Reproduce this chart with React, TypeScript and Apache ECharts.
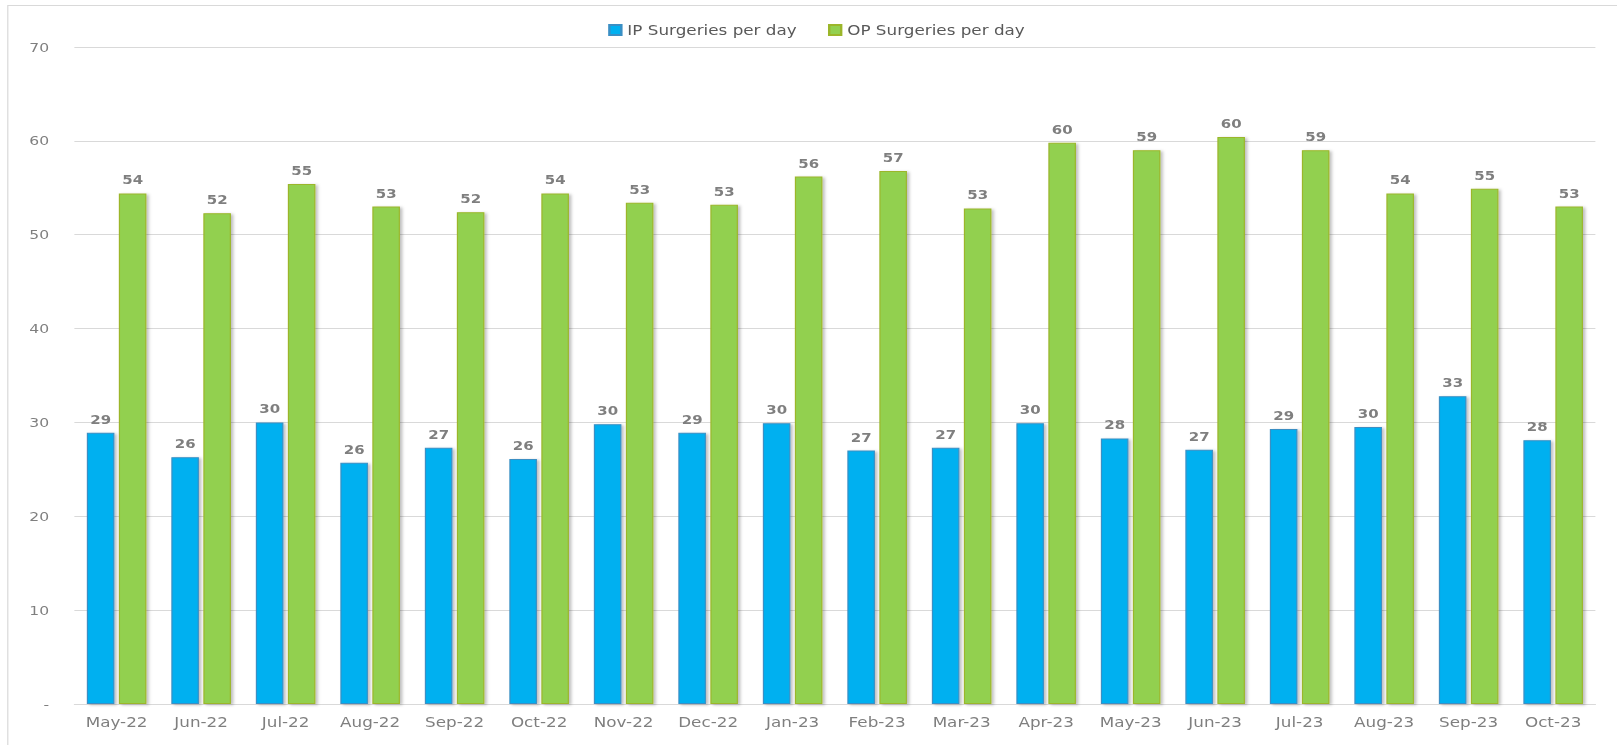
import React, { useEffect, useRef } from "react";
import * as echarts from "echarts";

const categories = [
  "May-22", "Jun-22", "Jul-22", "Aug-22", "Sep-22", "Oct-22", "Nov-22", "Dec-22", "Jan-23",
  "Feb-23", "Mar-23", "Apr-23", "May-23", "Jun-23", "Jul-23", "Aug-23", "Sep-23", "Oct-23",
];
const ipSurgeries = [28.9, 26.3, 30.0, 25.7, 27.3, 26.1, 29.8, 28.9, 29.9, 27.0, 27.3, 29.9, 28.3, 27.1, 29.3, 29.5, 32.8, 28.1];
const opSurgeries = [54.4, 52.3, 55.4, 53.0, 52.4, 54.4, 53.4, 53.2, 56.2, 56.8, 52.8, 59.8, 59.0, 60.4, 59.0, 54.4, 54.9, 53.0];
const seriesNames = ["IP Surgeries per day", "OP Surgeries per day"];

const FONT = "'DejaVu Sans', Verdana, sans-serif";
const INNER_W = 1348;
const STRETCH = 1617 / INNER_W;

export default function App() {
  const ref = useRef<HTMLDivElement>(null);
  useEffect(() => {
    if (!ref.current) return;
    const chart = echarts.init(ref.current, null, { renderer: "svg", width: INNER_W, height: 745 });
    const labelCfg = {
      show: true,
      position: "top",
      distance: 7,
      color: "#7f7f7f",
      fontWeight: "bold",
      fontSize: 12.5,
      fontFamily: FONT,
      formatter: (p: any) => String(Math.round(p.value)),
    };
    chart.setOption({
      animation: false,
      backgroundColor: "#ffffff",
      textStyle: { fontFamily: FONT },
      graphic: [
        {
          type: "rect",
          shape: { x: 6.5, y: 5.5, width: 1500, height: 800 },
          style: { fill: "none", stroke: "#d9d9d9", lineWidth: 1 },
          silent: true,
        },
      ],
      legend: {
        left: 502,
        top: 18,
        itemWidth: 10,
        itemHeight: 10,
        itemGap: 26,
        icon: "rect",
        textStyle: { color: "#595959", fontSize: 14, fontFamily: FONT },
        data: seriesNames,
      },
      grid: { left: 62, right: 18, top: 47, bottom: 41, containLabel: false },
      xAxis: {
        type: "category",
        data: categories,
        axisLine: { lineStyle: { color: "#d9d9d9" } },
        axisTick: { show: false },
        axisLabel: { color: "#7f7f7f", fontSize: 14, fontFamily: FONT, margin: 11 },
      },
      yAxis: {
        type: "value",
        min: 0,
        max: 70,
        interval: 10,
        axisLine: { show: false },
        axisTick: { show: false },
        splitLine: { lineStyle: { color: "#d9d9d9" } },
        axisLabel: {
          color: "#7f7f7f",
          fontSize: 13,
          fontFamily: FONT,
          margin: 21,
          formatter: (v: number) => (v === 0 ? "-" : String(v)),
        },
      },
      series: [
        {
          name: seriesNames[0],
          type: "bar",
          data: ipSurgeries,
          barWidth: 23,
          barGap: "16%",
          itemStyle: {
            color: "#00b0f0",
            borderColor: "#3a8fc4",
            borderWidth: 1,
            shadowColor: "rgba(0,0,0,0.25)",
            shadowBlur: 3,
            shadowOffsetX: 2,
            shadowOffsetY: 1,
          },
          label: labelCfg,
        },
        {
          name: seriesNames[1],
          type: "bar",
          data: opSurgeries,
          barWidth: 23,
          itemStyle: {
            color: "#92d050",
            borderColor: "#9bb62a",
            borderWidth: 1,
            shadowColor: "rgba(0,0,0,0.25)",
            shadowBlur: 3,
            shadowOffsetX: 2,
            shadowOffsetY: 1,
          },
          label: labelCfg,
        },
      ],
    });
    return () => chart.dispose();
  }, []);
  return (
    <div
      ref={ref}
      style={{
        position: "fixed",
        left: 0,
        top: 0,
        width: INNER_W,
        height: 745,
        background: "#fff",
        transform: `scaleX(${STRETCH})`,
        transformOrigin: "0 0",
      }}
    />
  );
}
